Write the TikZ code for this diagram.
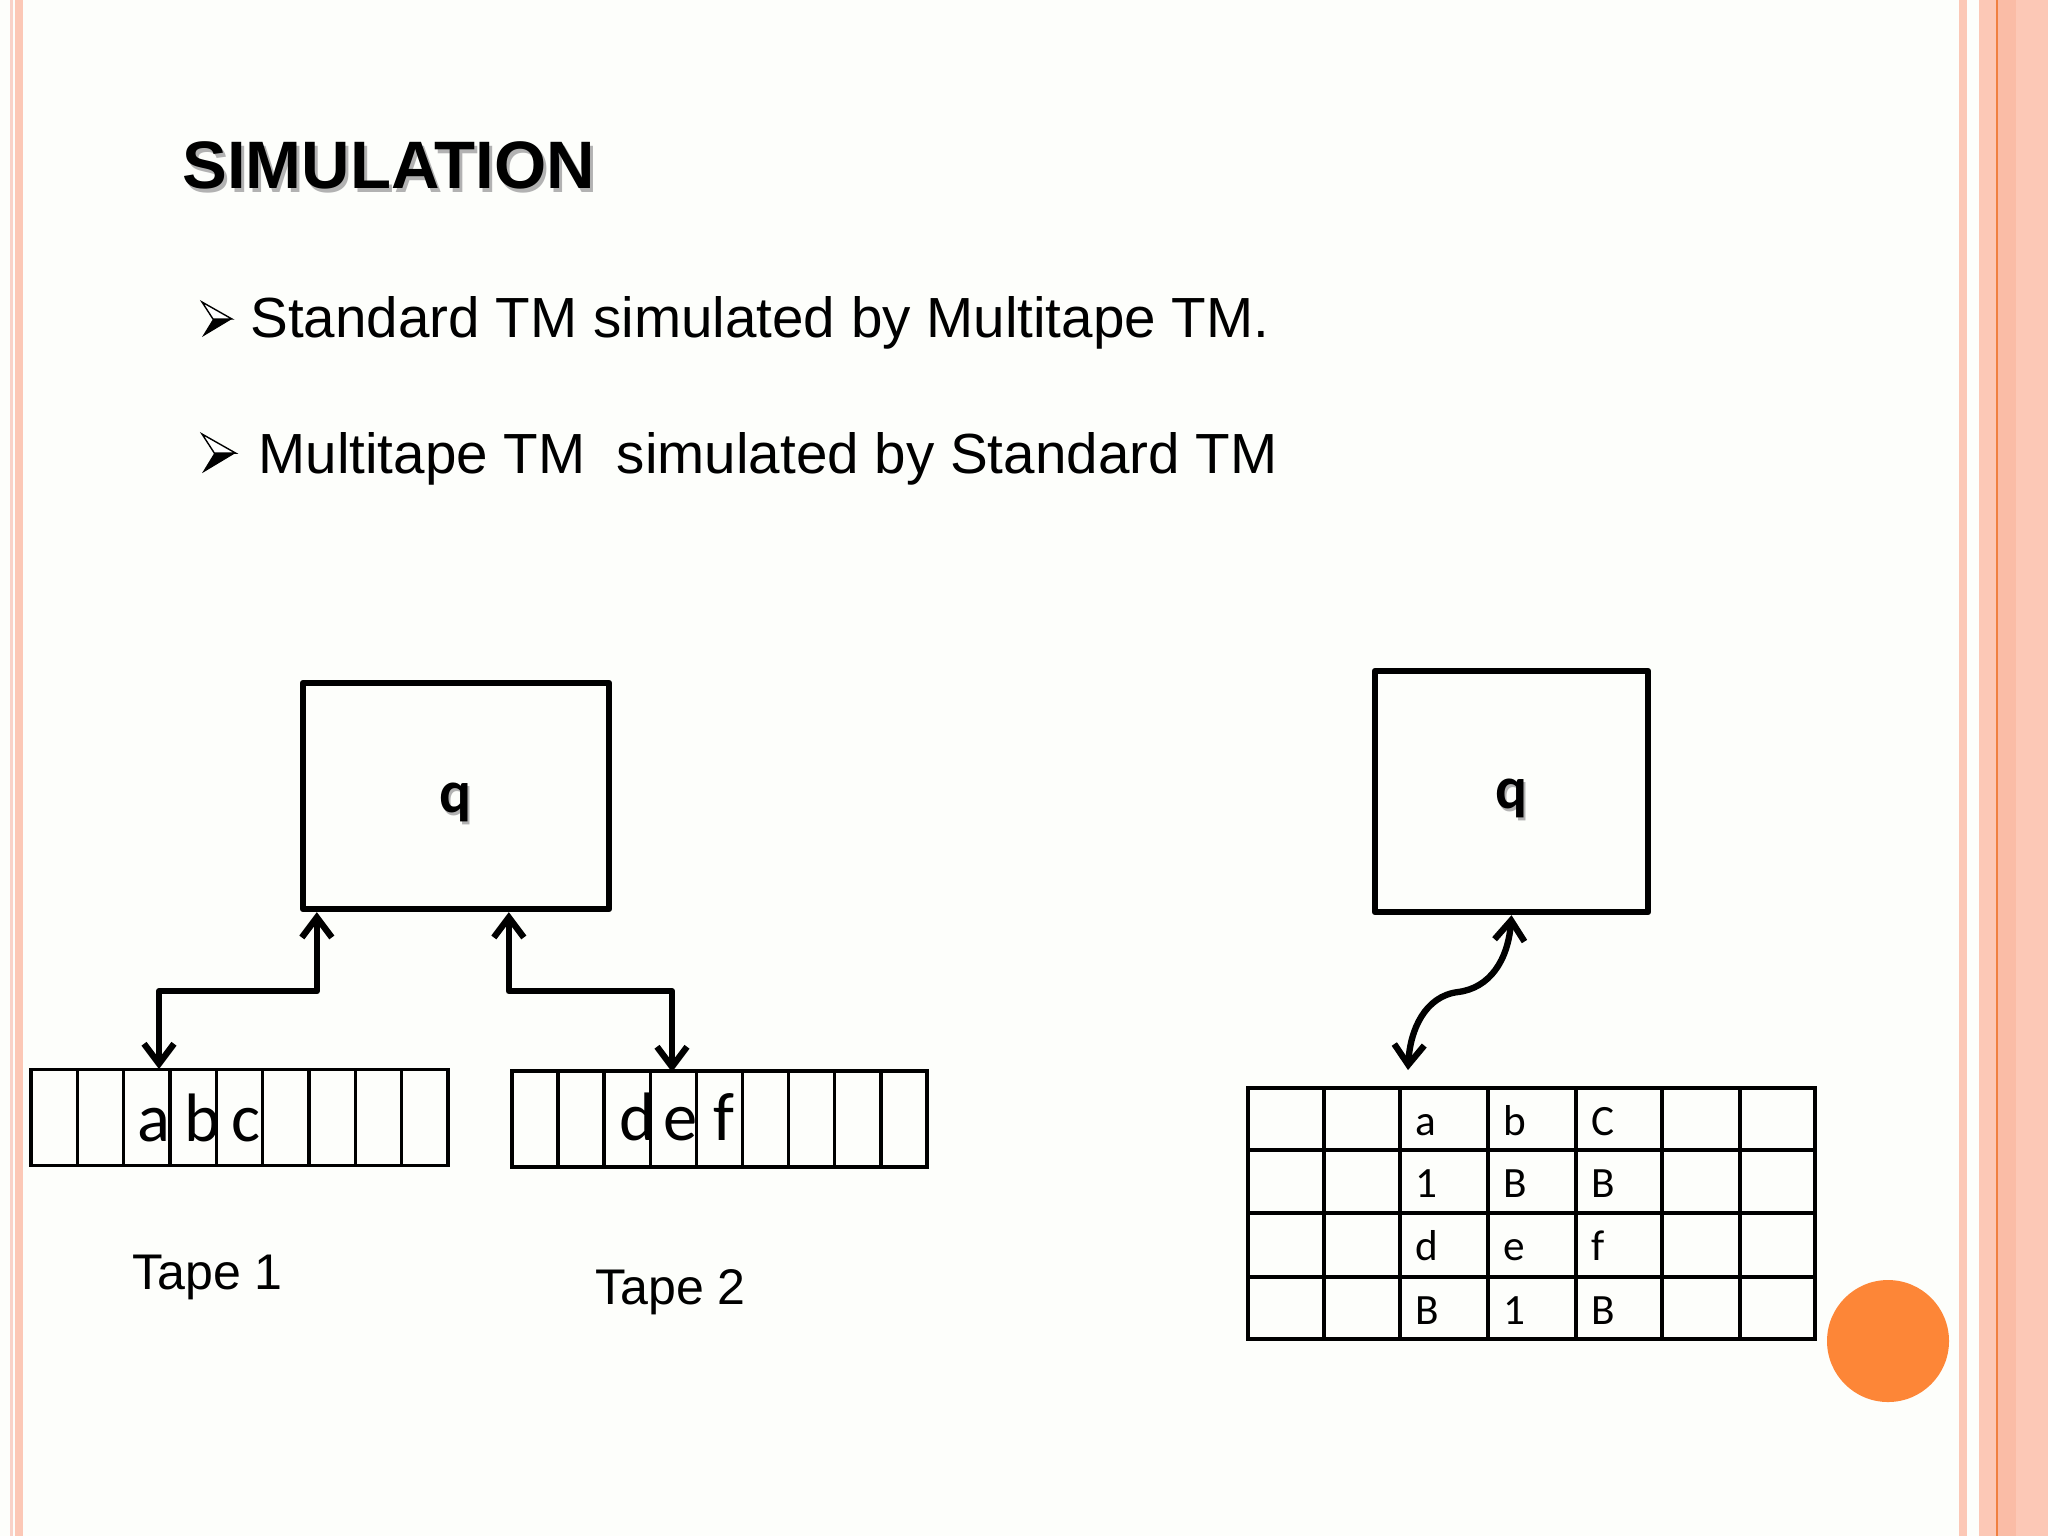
\documentclass[tikz,border=0pt]{standalone}
\usepackage{fontspec}
\setmainfont{Liberation Sans}
\newfontfamily\calibri{Carlito}
\usetikzlibrary{arrows.meta}
\definecolor{slidebg}{RGB}{253,254,251}
\definecolor{salmon}{RGB}{252,200,182}
\definecolor{salmondark}{RGB}{250,188,166}
\definecolor{pinkline}{RGB}{249,210,200}
\definecolor{orangeline}{RGB}{240,128,64}
\definecolor{dotorange}{RGB}{253,134,55}
\tikzset{
  qbox/.style={draw, line width=1.8pt, line join=round, inner sep=0pt},
  qlabel/.style={anchor=base, font=\calibri\bfseries\fontsize{17}{20}\selectfont},
  cellbox/.style={draw, line width=1pt, inner sep=0pt, minimum height=9.6mm},
  tapechar/.style={anchor=base, font=\calibri\fontsize{19.5}{23}\selectfont},
  gridchar/.style={anchor=base west, font=\calibri\fontsize{12.3}{15}\selectfont},
  tapelabel/.style={anchor=base west, font=\fontsize{14.25}{17}\selectfont},
  bullettext/.style={anchor=base west, font=\fontsize{16.1}{19}\selectfont},
  link/.style={line width=1.8pt, line join=round, >={Straight Barb[length=2mm,width=3mm]}, <->}
}
\begin{document}
\begin{tikzpicture}[x=0.1mm, y=-0.1mm]
  \useasboundingbox (0,0) rectangle (2048,1536);
  % slide background and borders
  \fill[slidebg] (0,0) rectangle (2048,1536);
  \fill[pinkline] (10,0) rectangle (13,1536);
  \fill[salmon] (15,0) rectangle (23,1536);
  \fill[salmon] (1959,0) rectangle (1967,1536);
  \fill[salmon] (1979,0) rectangle (2048,1536);
  \fill[salmondark] (1997,0) rectangle (2016,1536);
  \fill[orangeline] (1995.5,0) rectangle (1997.5,1536);
  \fill[dotorange] (1888,1341) circle (61);

  % title
  \node[anchor=base west, text=black!30, font=\bfseries\fontsize{19.1}{23}\selectfont] (titleshadow) at (173,192) {SIMULATION};
  \node[anchor=base west, font=\bfseries\fontsize{19.1}{23}\selectfont] (title) at (170,188) {SIMULATION};

  % bullets
  \foreach \by/\bs in {302/1, 434/1.12} {
    \begin{scope}[shift={(202,\by)}, scale=\bs]
      \filldraw[fill=white, draw=black, line width=0.4pt] (0,0) -- (30,17) -- (11,17) -- cycle;
      \fill[black] (11,17) -- (30,17) -- (0,35) -- cycle;
    \end{scope}
  }
  \node[bullettext] (item1) at (238,337) {Standard TM simulated by Multitape TM.};
  \node[bullettext] (item2) at (246,473) {Multitape TM\ \ simulated by Standard TM};

  % multitape machine
  \node[qbox, minimum width=30.6mm, minimum height=22.6mm] (qL) at (456,796) {};
  \node[qlabel, text=black!30] (qLs) at (458,815) {q};
  \node[qlabel] (qLq) at (456,812) {q};

  \foreach \i in {0,...,8}
    \node[cellbox, minimum width=4.633mm] (ta\i) at (54.2+\i*46.33,1117.5) {};
  \foreach \i in {0,...,8}
    \node[cellbox, minimum width=4.611mm] (tb\i) at (535+\i*46.11,1119) {};

  \node[tapechar] (ca) at (154,1141) {a};
  \node[tapechar] (cb) at (202,1141) {b};
  \node[tapechar] (cc) at (246,1141) {c};
  \node[tapechar] (cd) at (637,1140) {d};
  \node[tapechar] (ce) at (681,1140) {e};
  \node[tapechar] (cf) at (724,1140) {f};

  \coordinate (hd1) at (159,1069);
  \coordinate (hd2) at (672,1072);
  \draw[link] (qL.south west) ++(17,0) -- ++(0,79) -| (hd1);
  \draw[link] (qL.south west) ++(209,0) -- ++(0,79) -| (hd2);

  \node[tapelabel] (tape1) at (120,1289) {Tape 1};
  \node[tapelabel] (tape2) at (583,1304) {Tape 2};

  % standard machine with multi-track tape
  \node[qbox, minimum width=27.3mm, minimum height=24.1mm] (qR) at (1511.5,791.5) {};
  \node[qlabel, text=black!30] (qRs) at (1514,811) {q};
  \node[qlabel] (qRq) at (1512,808) {q};

  \draw[line width=1pt] (1248,1088) rectangle (1815,1339);
  \foreach \x in {1324,1400,1488,1576,1662,1740}
    \draw[line width=1pt] (\x,1088) -- (\x,1339);
  \foreach \y in {1150,1213,1277}
    \draw[line width=1pt] (1248,\y) -- (1815,\y);

  \foreach \c/\r/\t in {1400/1088/a, 1488/1088/b, 1576/1088/C,
                        1400/1150/1, 1488/1150/B, 1576/1150/B,
                        1400/1213/d, 1488/1213/e, 1576/1213/f,
                        1400/1277/B, 1488/1277/1, 1576/1277/B}
    \node[gridchar] (g\c\r) at (\c+3,\r+47) {\t};

  \coordinate (hd3) at (1408,1070);
  \draw[link] (qR.south) .. controls (1508,960) and (1490,988) .. (1458,992)
                         .. controls (1425,996) and (1410,1030) .. (hd3);
\end{tikzpicture}
\end{document}
